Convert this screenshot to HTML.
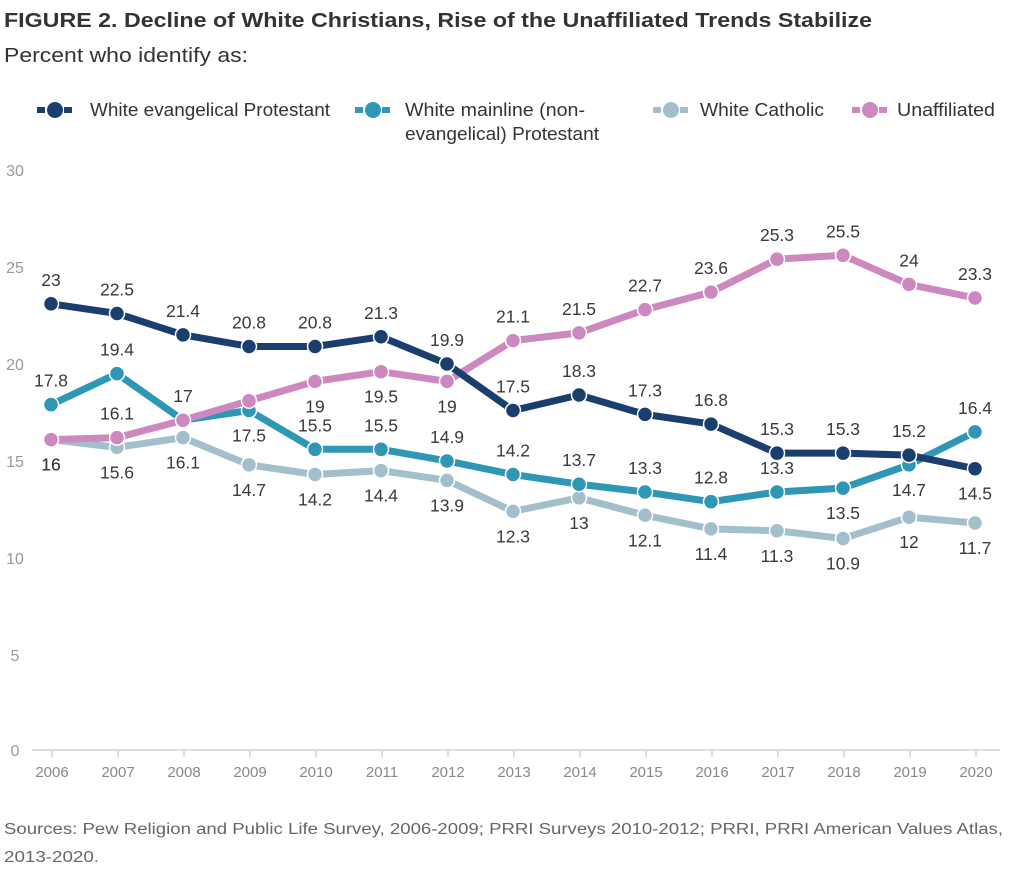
<!DOCTYPE html><html><head><style>body{margin:0;background:#fff}svg{display:block}text{font-family:"Liberation Sans",sans-serif}</style></head><body>
<svg width="1024" height="884" viewBox="0 0 1024 884">
<text x="4" y="27" font-size="20" font-weight="bold" fill="#333" textLength="868" lengthAdjust="spacingAndGlyphs" font-family="Liberation Sans Narrow, Liberation Sans">FIGURE 2.  Decline of White Christians, Rise of the Unaffiliated Trends Stabilize</text>
<text x="4" y="62" font-size="20" fill="#333" textLength="244" lengthAdjust="spacingAndGlyphs">Percent who identify as:</text>
<g font-size="18" fill="#333">
<g><rect x="37" y="107" width="8" height="6" fill="#1a3f6e"/><rect x="64" y="107" width="8" height="6" fill="#1a3f6e"/><circle cx="55" cy="110" r="8" fill="#1a3f6e"/></g>
<text x="90" y="116" textLength="240" lengthAdjust="spacingAndGlyphs">White evangelical Protestant</text>
<g><rect x="355" y="107" width="8" height="6" fill="#2e97b5"/><rect x="382" y="107" width="8" height="6" fill="#2e97b5"/><circle cx="373" cy="110" r="8" fill="#2e97b5"/></g>
<text x="405" y="116" textLength="180" lengthAdjust="spacingAndGlyphs">White mainline (non-</text>
<text x="405" y="140" textLength="194" lengthAdjust="spacingAndGlyphs">evangelical) Protestant</text>
<g><rect x="653" y="107" width="8" height="6" fill="#a3bfcc"/><rect x="680" y="107" width="8" height="6" fill="#a3bfcc"/><circle cx="671" cy="110" r="8" fill="#a3bfcc"/></g>
<text x="700" y="116" textLength="124" lengthAdjust="spacingAndGlyphs">White Catholic</text>
<g><rect x="852" y="107" width="8" height="6" fill="#cc88bf"/><rect x="879" y="107" width="8" height="6" fill="#cc88bf"/><circle cx="870" cy="110" r="8" fill="#cc88bf"/></g>
<text x="897" y="116" textLength="98" lengthAdjust="spacingAndGlyphs">Unaffiliated</text>
</g>
<g font-size="16" fill="#999" text-anchor="middle">
<text x="15" y="176">30</text><text x="15" y="273">25</text><text x="15" y="370">20</text><text x="15" y="467">15</text><text x="15" y="564">10</text><text x="15" y="661">5</text><text x="15" y="756">0</text>
</g>
<line x1="32" y1="750" x2="1000" y2="750" stroke="#ddd" stroke-width="2"/>
<g id="ax" stroke="#ddd" stroke-width="2"></g>
<g id="xl" font-size="15" fill="#888" text-anchor="middle"></g>
<g id="ser"></g>
<g id="lab" font-size="17.5" fill="#3a3a3a" text-anchor="middle"></g>
<text x="4" y="834" font-size="15.5" fill="#666" textLength="999" lengthAdjust="spacingAndGlyphs">Sources: Pew Religion and Public Life Survey, 2006-2009; PRRI Surveys 2010-2012; PRRI, PRRI American Values Atlas,</text>
<text x="4" y="862" font-size="15.5" fill="#666" textLength="95" lengthAdjust="spacingAndGlyphs">2013-2020.</text>
</svg>
<script>
var NS="http://www.w3.org/2000/svg";
function X(i){return 51+66*i}function Y(v){return 750-19.4*v}
function el(p,t,a,txt){var e=document.createElementNS(NS,t);for(var k in a)e.setAttribute(k,a[k]);if(txt!=null)e.textContent=txt;document.getElementById(p).appendChild(e);return e}
for(var i=0;i<15;i++){el("ax","line",{x1:X(i)+1,y1:750,x2:X(i)+1,y2:757});el("xl","text",{x:X(i)+1,y:777},2006+i)}
var S=[
["#a3bfcc",[16,15.6,16.1,14.7,14.2,14.4,13.9,12.3,13,12.1,11.4,11.3,10.9,12,11.7],"bbbbbbbbbbbbbbb"],
["#2e97b5",[17.8,19.4,17,17.5,15.5,15.5,14.9,14.2,13.7,13.3,12.8,13.3,13.5,14.7,16.4],"aaabaaaaaaaabba"],
["#cc88bf",[16,16.1,17,18,19,19.5,19,21.1,21.5,22.7,23.6,25.3,25.5,24,23.3],"bannbbbaaaaaaaa"],
["#1a3f6e",[23,22.5,21.4,20.8,20.8,21.3,19.9,17.5,18.3,17.3,16.8,15.3,15.3,15.2,14.5],"aaaaaaaaaaaaaab"]];
S.forEach(function(s){var pts=s[1].map(function(v,i){return X(i)+","+Y(v)}).join(" ");
el("ser","polyline",{points:pts,fill:"none",stroke:s[0],"stroke-width":7,"stroke-linejoin":"round"});
s[1].forEach(function(v,i){el("ser","circle",{cx:X(i),cy:Y(v),r:7.5,fill:s[0],stroke:"#fff","stroke-width":1.5});
var p=s[2][i];if(p=="n")return;var y=Y(v)+(p=="a"?-24:25)+6;el("lab","text",{x:X(i),y:y},String(v))})});
</script>
</body></html>
